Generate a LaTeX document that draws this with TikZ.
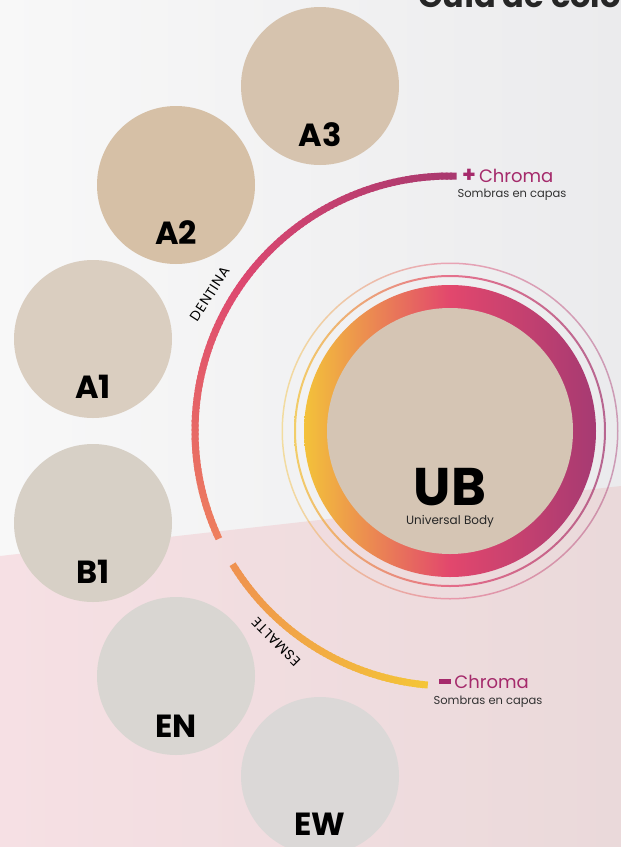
\documentclass[tikz,border=0pt]{standalone}
\usepackage{fontspec}
\setmainfont{Poppins}
\usepackage{xcolor}
\usetikzlibrary{positioning, calc}

\definecolor{bgL}{HTML}{F8F8F8}
\definecolor{bgR}{HTML}{EBEBED}
\definecolor{pinkL}{HTML}{F6E0E4}
\definecolor{pinkR}{HTML}{EAD9DA}
\definecolor{sA3}{HTML}{D6C3AE}
\definecolor{sA2}{HTML}{D6C0A6}
\definecolor{sA1}{HTML}{DACEC0}
\definecolor{sB1}{HTML}{D7D0C6}
\definecolor{sEN}{HTML}{D9D6D2}
\definecolor{sEW}{HTML}{DBD8D7}
\definecolor{ubBody}{HTML}{D5C5B4}
\definecolor{ubY}{HTML}{F3C23A}
\definecolor{ubK}{HTML}{E2476D}
\definecolor{ubP}{HTML}{A63A72}
\definecolor{dOrange}{HTML}{EE7F5E}
\definecolor{dPink}{HTML}{DD4870}
\definecolor{dPurple}{HTML}{A8386F}
\definecolor{eOrange}{HTML}{EF9150}
\definecolor{eYellow}{HTML}{F4C537}
\definecolor{chromaC}{HTML}{A52A6B}
\definecolor{noteC}{HTML}{333333}

\tikzset{
    swatch/.style={circle, minimum size=158pt, inner sep=0pt},
    tag/.style={anchor=base, inner sep=0pt, font=\fontsize{32}{34}\selectfont\bfseries},
    ubshade/.style={left color=ubY, right color=ubP, middle color=ubK},
    arcline/.style={line width=7pt, line cap=butt},
    arctext/.style={inner sep=0pt, font=\fontsize{14}{15}\selectfont\addfontfeatures{LetterSpace=5}},
    chroma/.style={anchor=base west, inner sep=0pt, text=chromaC, font=\fontsize{18}{20}\selectfont},
    note/.style={anchor=base, inner sep=0pt, text=noteC, font=\fontsize{11.5}{12}\selectfont},
}

\begin{document}
\begin{tikzpicture}[x=1pt, y=-1pt]
\useasboundingbox (0,0) rectangle (621,847);
% fondo
\shade[left color=bgL, right color=bgR] (0,0) rectangle (621,847);
\shade[left color=pinkL, right color=pinkR] (0,556) -- (621,486) -- (621,847) -- (0,847) -- cycle;

\node[anchor=base west, inner sep=0pt, font=\fontsize{32}{34}\selectfont\bfseries, text=black!85] (title) at (418,7) {Guía de colo};

% muestras
\node[swatch, fill=sA3] (A3) at (320,86) {};
\node[swatch, fill=sA2] (A2) at (176,185) {};
\node[swatch, fill=sA1] (A1) at (93,339) {};
\node[swatch, fill=sB1] (B1) at (93,523) {};
\node[swatch, fill=sEN] (EN) at (176,676) {};
\node[swatch, fill=sEW] (EW) at (320,776) {};
\node[tag] (A3-tag) at (320,146) {A3};
\node[tag] (A2-tag) at (176,244) {A2};
\node[tag] (A1-tag) at (93,398) {A1};
\node[tag] (B1-tag) at (93,583) {B1};
\node[tag] (EN-tag) at (176,737) {EN};
\node[tag] (EW-tag) at (320,835) {EW};

% UB
\coordinate (ub) at (450,431);
\shade[ubshade, fill opacity=.45, even odd rule] (ub) circle[radius=168.5] (ub) circle[radius=167];
\shade[ubshade, fill opacity=.75, even odd rule] (ub) circle[radius=156] (ub) circle[radius=154];
\shade[ubshade] (ub) circle[radius=146];
\node[circle, fill=ubBody, minimum size=246pt, inner sep=0pt] (UB) at (ub) {};
\node[anchor=base, inner sep=0pt, font=\fontsize{53}{55}\selectfont\bfseries] (UB-tag) at (450,505) {UB};
\node[note, text=black!85, font=\fontsize{12}{13}\selectfont] (UB-note) at (450,524) {Universal Body};

% arcos
\foreach \a [evaluate=\a as \p using {(\a-155)*100/60}] in {155,156,...,214}
    \draw[arcline, draw=dPink!\p!dOrange] (ub) ++(\a:255) arc[start angle=\a, end angle=\a+1.5, radius=255];
\foreach \a [evaluate=\a as \p using {(\a-215)*100/56}] in {215,216,...,270}
    \draw[arcline, draw=dPurple!\p!dPink] (ub) ++(\a:255) arc[start angle=\a, end angle=\a+1.5, radius=255];
\foreach \a [evaluate=\a as \p using {(\a-95)*100/53}] in {95,96,...,147}
    \draw[arcline, draw=eOrange!\p!eYellow] (ub) ++(\a:255) arc[start angle=\a, end angle=\a+1.5, radius=255];

\node[arctext, rotate=57] (dentina) at (210,294) {DENTINA};
\node[arctext, rotate=135] (esmalte) at (276,642) {ESMALTE};

% chroma
\node[chroma] (mas) at (462,182) {{\fontsize{22}{22}\selectfont\bfseries +}\,Chroma};
\node[note] (mas-note) at (512,197) {Sombras en capas};
\node[chroma] (menos) at (439,688) {\rule[0.22em]{0.68em}{0.27em}\,Chroma};
\node[note] (menos-note) at (488,704) {Sombras en capas};
\end{tikzpicture}
\end{document}
